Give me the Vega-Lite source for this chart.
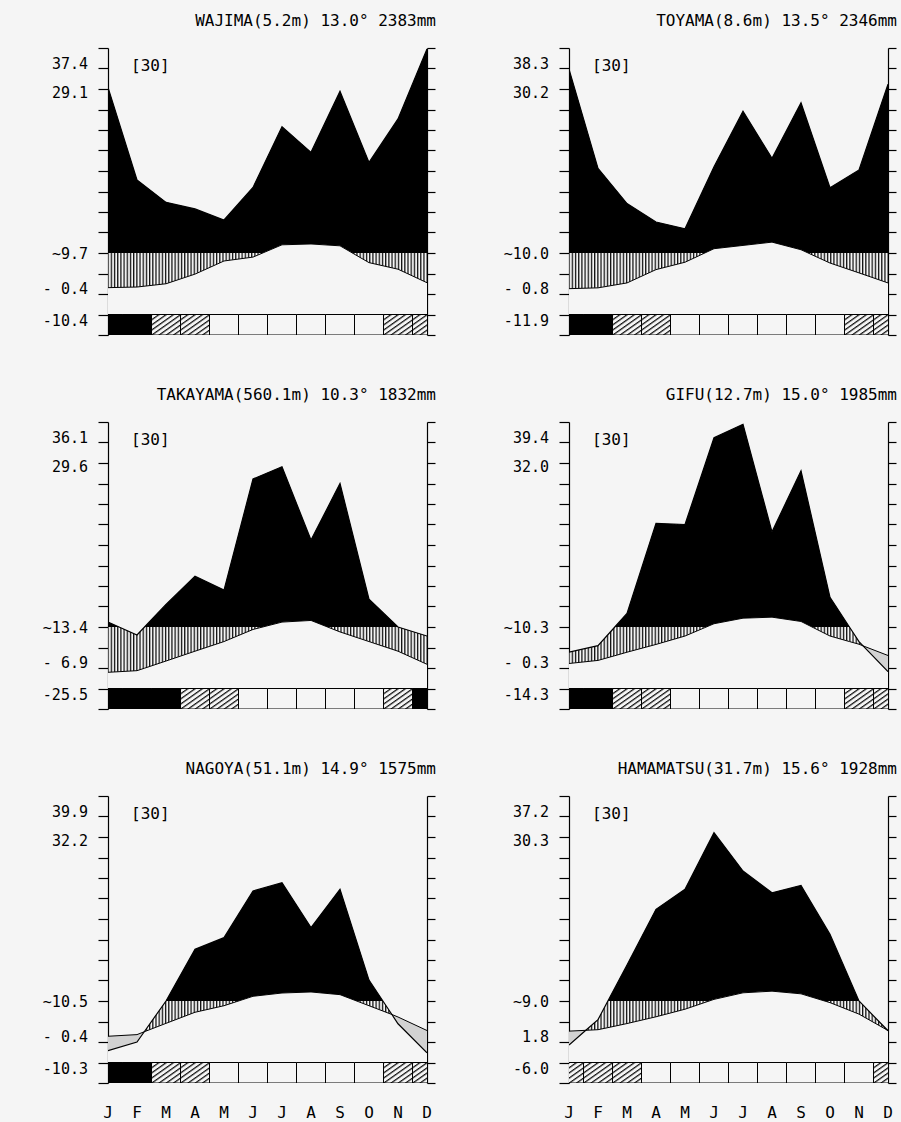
{
"$schema":"https://vega.github.io/schema/vega-lite/v6.json",
"background":"#f5f5f5",
"padding":{"left":42,"top":13,"right":5,"bottom":5},
"bounds":"flush",
"spacing":{"row":87,"column":142},
"columns":2,
"data":{"values":[
{"s":"WAJIMA","title":"WAJIMA(5.2m) 13.0° 2383mm","a":"37.4","b":"29.1","c":"~9.7","d":"- 0.4","e":"-10.4"},
{"s":"TOYAMA","title":"TOYAMA(8.6m)  13.5°  2346mm","a":"38.3","b":"30.2","c":"~10.0","d":"- 0.8","e":"-11.9"},
{"s":"TAKAYAMA","title":"TAKAYAMA(560.1m) 10.3° 1832mm","a":"36.1","b":"29.6","c":"~13.4","d":"- 6.9","e":"-25.5"},
{"s":"GIFU","title":"GIFU(12.7m)  15.0°  1985mm","a":"39.4","b":"32.0","c":"~10.3","d":"- 0.3","e":"-14.3"},
{"s":"NAGOYA","title":"NAGOYA(51.1m) 14.9°  1575mm","a":"39.9","b":"32.2","c":"~10.5","d":"- 0.4","e":"-10.3"},
{"s":"HAMAMATSU","title":"HAMAMATSU(31.7m) 15.6°  1928mm","a":"37.2","b":"30.3","c":"~9.0","d":"1.8","e":"-6.0"},
{"s":"WAJIMA","m":0,"t":3.1,"p":100.8,"f":"b"},{"s":"WAJIMA","m":1,"t":3.4,"p":55.6,"f":"b"},{"s":"WAJIMA","m":2,"t":5.0,"p":44.7,"f":"h"},{"s":"WAJIMA","m":3,"t":9.7,"p":41.5,"f":"h"},{"s":"WAJIMA","m":4,"t":16.1,"p":36.1,"f":"w"},{"s":"WAJIMA","m":5,"t":18.0,"p":52.0,"f":"w"},{"s":"WAJIMA","m":6,"t":24.0,"p":81.6,"f":"w"},{"s":"WAJIMA","m":7,"t":24.4,"p":69.1,"f":"w"},{"s":"WAJIMA","m":8,"t":23.5,"p":98.9,"f":"w"},{"s":"WAJIMA","m":9,"t":15.3,"p":64.2,"f":"w"},{"s":"WAJIMA","m":10,"t":12.1,"p":85.4,"f":"h"},{"s":"WAJIMA","m":11,"t":5.5,"p":119.5,"f":"h"},
{"s":"TOYAMA","m":0,"t":2.6,"p":109.7,"f":"b"},{"s":"TOYAMA","m":1,"t":3.0,"p":61.3,"f":"b"},{"s":"TOYAMA","m":2,"t":5.4,"p":44.1,"f":"h"},{"s":"TOYAMA","m":3,"t":11.9,"p":35.1,"f":"h"},{"s":"TOYAMA","m":4,"t":15.5,"p":31.8,"f":"w"},{"s":"TOYAMA","m":5,"t":22.1,"p":62.1,"f":"w"},{"s":"TOYAMA","m":6,"t":23.7,"p":89.2,"f":"w"},{"s":"TOYAMA","m":7,"t":25.3,"p":66.2,"f":"w"},{"s":"TOYAMA","m":8,"t":21.6,"p":93.3,"f":"w"},{"s":"TOYAMA","m":9,"t":15.1,"p":51.8,"f":"w"},{"s":"TOYAMA","m":10,"t":10.3,"p":60.5,"f":"h"},{"s":"TOYAMA","m":11,"t":5.4,"p":102.3,"f":"h"},
{"s":"TAKAYAMA","m":0,"t":-2.1,"p":22.4,"f":"b"},{"s":"TAKAYAMA","m":0.38,"t":-1.8,"p":20},{"s":"TAKAYAMA","m":1,"t":-1.3,"p":16.1,"f":"b"},{"s":"TAKAYAMA","m":1.26,"t":-0.1,"p":20},{"s":"TAKAYAMA","m":2,"t":3.4,"p":31.0,"f":"b"},{"s":"TAKAYAMA","m":3,"t":8.2,"p":44.8,"f":"h"},{"s":"TAKAYAMA","m":4,"t":12.9,"p":38.0,"f":"h"},{"s":"TAKAYAMA","m":5,"t":18.8,"p":92.2,"f":"w"},{"s":"TAKAYAMA","m":6,"t":22.4,"p":98.2,"f":"w"},{"s":"TAKAYAMA","m":7,"t":23.2,"p":62.4,"f":"w"},{"s":"TAKAYAMA","m":8,"t":17.6,"p":90.0,"f":"w"},{"s":"TAKAYAMA","m":9,"t":12.9,"p":33.6,"f":"w"},{"s":"TAKAYAMA","m":10,"t":8.2,"p":20.0,"f":"h"},{"s":"TAKAYAMA","m":11,"t":1.8,"p":15.6,"f":"b"},
{"s":"GIFU","m":0,"t":2.2,"p":7.7,"f":"b"},{"s":"GIFU","m":1,"t":3.7,"p":10.9,"f":"b"},{"s":"GIFU","m":1.58,"t":6.0,"p":20},{"s":"GIFU","m":2,"t":7.7,"p":26.6,"f":"h"},{"s":"GIFU","m":3,"t":11.5,"p":70.5,"f":"h"},{"s":"GIFU","m":4,"t":15.6,"p":70.0,"f":"w"},{"s":"GIFU","m":5,"t":21.6,"p":112.3,"f":"w"},{"s":"GIFU","m":6,"t":24.3,"p":118.9,"f":"w"},{"s":"GIFU","m":7,"t":24.8,"p":66.4,"f":"w"},{"s":"GIFU","m":8,"t":22.7,"p":96.2,"f":"w"},{"s":"GIFU","m":9,"t":15.6,"p":34.5,"f":"w"},{"s":"GIFU","m":9.67,"t":12.9,"p":20},{"s":"GIFU","m":10,"t":11.6,"p":12.9,"f":"h"},{"s":"GIFU","m":10.14,"t":10.8,"p":10.8},{"s":"GIFU","m":11,"t":6.1,"p":-1.8,"f":"h"},
{"s":"NAGOYA","m":0,"t":2.8,"p":-4.2,"f":"b","ml":"J"},{"s":"NAGOYA","m":1,"t":3.6,"p":0.0,"f":"b","ml":"F"},{"s":"NAGOYA","m":1.25,"t":5.0,"p":5.0},{"s":"NAGOYA","m":2,"t":9.1,"p":20.0,"f":"h","ml":"M"},{"s":"NAGOYA","m":3,"t":14.5,"p":45.2,"f":"h","ml":"A"},{"s":"NAGOYA","m":4,"t":17.7,"p":50.9,"f":"w","ml":"M"},{"s":"NAGOYA","m":5,"t":22.3,"p":73.7,"f":"w","ml":"J"},{"s":"NAGOYA","m":6,"t":23.9,"p":77.7,"f":"w","ml":"J"},{"s":"NAGOYA","m":7,"t":24.4,"p":55.8,"f":"w","ml":"A"},{"s":"NAGOYA","m":8,"t":23.1,"p":74.5,"f":"w","ml":"S"},{"s":"NAGOYA","m":9,"t":17.7,"p":30.2,"f":"w","ml":"O"},{"s":"NAGOYA","m":9.48,"t":15.1,"p":20},{"s":"NAGOYA","m":9.79,"t":13.4,"p":13.4},{"s":"NAGOYA","m":10,"t":12.2,"p":8.9,"f":"h","ml":"N"},{"s":"NAGOYA","m":11,"t":5.6,"p":-5.3,"f":"h","ml":"D"},
{"s":"HAMAMATSU","m":0,"t":5.3,"p":-1.5,"f":"h","ml":"J"},{"s":"HAMAMATSU","m":0.58,"t":5.7,"p":5.7},{"s":"HAMAMATSU","m":1,"t":6.0,"p":10.9,"f":"h","ml":"F"},{"s":"HAMAMATSU","m":1.34,"t":7.0,"p":20},{"s":"HAMAMATSU","m":2,"t":9.0,"p":37.6,"f":"h","ml":"M"},{"s":"HAMAMATSU","m":3,"t":12.3,"p":64.7,"f":"w","ml":"A"},{"s":"HAMAMATSU","m":4,"t":16.0,"p":74.5,"f":"w","ml":"M"},{"s":"HAMAMATSU","m":5,"t":20.8,"p":102.1,"f":"w","ml":"J"},{"s":"HAMAMATSU","m":6,"t":24.0,"p":83.4,"f":"w","ml":"J"},{"s":"HAMAMATSU","m":7,"t":24.8,"p":72.8,"f":"w","ml":"A"},{"s":"HAMAMATSU","m":8,"t":23.5,"p":76.4,"f":"w","ml":"S"},{"s":"HAMAMATSU","m":9,"t":19.2,"p":52.5,"f":"w","ml":"O"},{"s":"HAMAMATSU","m":10,"t":13.6,"p":20.0,"f":"w","ml":"N"},{"s":"HAMAMATSU","m":11,"t":5.6,"p":5.5,"f":"h","ml":"D"}
]},
"facet":{"field":"s","type":"nominal","sort":["WAJIMA","TOYAMA","TAKAYAMA","GIFU","NAGOYA","HAMAMATSU"],"title":null,"header":{"labels":false,"title":null,"labelExpr":"''","labelFontSize":0,"labelPadding":0,"labelColor":"transparent"}},
"resolve":{"axis":{"y":"independent"}},
"spec":{
"width":319,"height":287,
"resolve":{"axis":{"y":"independent"}},
"layer":[
{"transform":[{"filter":"isValid(datum.t)"}],
 "mark":{"type":"area","clip":true,"fill":{"gradient":"linear","x1":0,"y1":0,"x2":1,"y2":0,"stops":[
{"offset":0,"color":"#111"},{"offset":0.005,"color":"#f5f5f5"},{"offset":0.007,"color":"#f5f5f5"},
{"offset":0.01,"color":"#111"},{"offset":0.015,"color":"#f5f5f5"},{"offset":0.017,"color":"#f5f5f5"},
{"offset":0.02,"color":"#111"},{"offset":0.025,"color":"#f5f5f5"},{"offset":0.027,"color":"#f5f5f5"},
{"offset":0.03,"color":"#111"},{"offset":0.035,"color":"#f5f5f5"},{"offset":0.037,"color":"#f5f5f5"},
{"offset":0.04,"color":"#111"},{"offset":0.045,"color":"#f5f5f5"},{"offset":0.047,"color":"#f5f5f5"},
{"offset":0.05,"color":"#111"},{"offset":0.055,"color":"#f5f5f5"},{"offset":0.057,"color":"#f5f5f5"},
{"offset":0.06,"color":"#111"},{"offset":0.065,"color":"#f5f5f5"},{"offset":0.067,"color":"#f5f5f5"},
{"offset":0.07,"color":"#111"},{"offset":0.075,"color":"#f5f5f5"},{"offset":0.077,"color":"#f5f5f5"},
{"offset":0.08,"color":"#111"},{"offset":0.085,"color":"#f5f5f5"},{"offset":0.087,"color":"#f5f5f5"},
{"offset":0.09,"color":"#111"},{"offset":0.095,"color":"#f5f5f5"},{"offset":0.097,"color":"#f5f5f5"},
{"offset":0.10,"color":"#111"},{"offset":0.105,"color":"#f5f5f5"},{"offset":0.107,"color":"#f5f5f5"},
{"offset":0.11,"color":"#111"},{"offset":0.115,"color":"#f5f5f5"},{"offset":0.117,"color":"#f5f5f5"},
{"offset":0.12,"color":"#111"},{"offset":0.125,"color":"#f5f5f5"},{"offset":0.127,"color":"#f5f5f5"},
{"offset":0.13,"color":"#111"},{"offset":0.135,"color":"#f5f5f5"},{"offset":0.137,"color":"#f5f5f5"},
{"offset":0.14,"color":"#111"},{"offset":0.145,"color":"#f5f5f5"},{"offset":0.147,"color":"#f5f5f5"},
{"offset":0.15,"color":"#111"},{"offset":0.155,"color":"#f5f5f5"},{"offset":0.157,"color":"#f5f5f5"},
{"offset":0.16,"color":"#111"},{"offset":0.165,"color":"#f5f5f5"},{"offset":0.167,"color":"#f5f5f5"},
{"offset":0.17,"color":"#111"},{"offset":0.175,"color":"#f5f5f5"},{"offset":0.177,"color":"#f5f5f5"},
{"offset":0.18,"color":"#111"},{"offset":0.185,"color":"#f5f5f5"},{"offset":0.187,"color":"#f5f5f5"},
{"offset":0.19,"color":"#111"},{"offset":0.195,"color":"#f5f5f5"},{"offset":0.197,"color":"#f5f5f5"},
{"offset":0.20,"color":"#111"},{"offset":0.205,"color":"#f5f5f5"},{"offset":0.207,"color":"#f5f5f5"},
{"offset":0.21,"color":"#111"},{"offset":0.215,"color":"#f5f5f5"},{"offset":0.217,"color":"#f5f5f5"},
{"offset":0.22,"color":"#111"},{"offset":0.225,"color":"#f5f5f5"},{"offset":0.227,"color":"#f5f5f5"},
{"offset":0.23,"color":"#111"},{"offset":0.235,"color":"#f5f5f5"},{"offset":0.237,"color":"#f5f5f5"},
{"offset":0.24,"color":"#111"},{"offset":0.245,"color":"#f5f5f5"},{"offset":0.247,"color":"#f5f5f5"},
{"offset":0.25,"color":"#111"},{"offset":0.255,"color":"#f5f5f5"},{"offset":0.257,"color":"#f5f5f5"},
{"offset":0.26,"color":"#111"},{"offset":0.265,"color":"#f5f5f5"},{"offset":0.267,"color":"#f5f5f5"},
{"offset":0.27,"color":"#111"},{"offset":0.275,"color":"#f5f5f5"},{"offset":0.277,"color":"#f5f5f5"},
{"offset":0.28,"color":"#111"},{"offset":0.285,"color":"#f5f5f5"},{"offset":0.287,"color":"#f5f5f5"},
{"offset":0.29,"color":"#111"},{"offset":0.295,"color":"#f5f5f5"},{"offset":0.297,"color":"#f5f5f5"},
{"offset":0.30,"color":"#111"},{"offset":0.305,"color":"#f5f5f5"},{"offset":0.307,"color":"#f5f5f5"},
{"offset":0.31,"color":"#111"},{"offset":0.315,"color":"#f5f5f5"},{"offset":0.317,"color":"#f5f5f5"},
{"offset":0.32,"color":"#111"},{"offset":0.325,"color":"#f5f5f5"},{"offset":0.327,"color":"#f5f5f5"},
{"offset":0.33,"color":"#111"},{"offset":0.335,"color":"#f5f5f5"},{"offset":0.337,"color":"#f5f5f5"},
{"offset":0.34,"color":"#111"},{"offset":0.345,"color":"#f5f5f5"},{"offset":0.347,"color":"#f5f5f5"},
{"offset":0.35,"color":"#111"},{"offset":0.355,"color":"#f5f5f5"},{"offset":0.357,"color":"#f5f5f5"},
{"offset":0.36,"color":"#111"},{"offset":0.365,"color":"#f5f5f5"},{"offset":0.367,"color":"#f5f5f5"},
{"offset":0.37,"color":"#111"},{"offset":0.375,"color":"#f5f5f5"},{"offset":0.377,"color":"#f5f5f5"},
{"offset":0.38,"color":"#111"},{"offset":0.385,"color":"#f5f5f5"},{"offset":0.387,"color":"#f5f5f5"},
{"offset":0.39,"color":"#111"},{"offset":0.395,"color":"#f5f5f5"},{"offset":0.397,"color":"#f5f5f5"},
{"offset":0.40,"color":"#111"},{"offset":0.405,"color":"#f5f5f5"},{"offset":0.407,"color":"#f5f5f5"},
{"offset":0.41,"color":"#111"},{"offset":0.415,"color":"#f5f5f5"},{"offset":0.417,"color":"#f5f5f5"},
{"offset":0.42,"color":"#111"},{"offset":0.425,"color":"#f5f5f5"},{"offset":0.427,"color":"#f5f5f5"},
{"offset":0.43,"color":"#111"},{"offset":0.435,"color":"#f5f5f5"},{"offset":0.437,"color":"#f5f5f5"},
{"offset":0.44,"color":"#111"},{"offset":0.445,"color":"#f5f5f5"},{"offset":0.447,"color":"#f5f5f5"},
{"offset":0.45,"color":"#111"},{"offset":0.455,"color":"#f5f5f5"},{"offset":0.457,"color":"#f5f5f5"},
{"offset":0.46,"color":"#111"},{"offset":0.465,"color":"#f5f5f5"},{"offset":0.467,"color":"#f5f5f5"},
{"offset":0.47,"color":"#111"},{"offset":0.475,"color":"#f5f5f5"},{"offset":0.477,"color":"#f5f5f5"},
{"offset":0.48,"color":"#111"},{"offset":0.485,"color":"#f5f5f5"},{"offset":0.487,"color":"#f5f5f5"},
{"offset":0.49,"color":"#111"},{"offset":0.495,"color":"#f5f5f5"},{"offset":0.497,"color":"#f5f5f5"},
{"offset":0.50,"color":"#111"},{"offset":0.505,"color":"#f5f5f5"},{"offset":0.507,"color":"#f5f5f5"},
{"offset":0.51,"color":"#111"},{"offset":0.515,"color":"#f5f5f5"},{"offset":0.517,"color":"#f5f5f5"},
{"offset":0.52,"color":"#111"},{"offset":0.525,"color":"#f5f5f5"},{"offset":0.527,"color":"#f5f5f5"},
{"offset":0.53,"color":"#111"},{"offset":0.535,"color":"#f5f5f5"},{"offset":0.537,"color":"#f5f5f5"},
{"offset":0.54,"color":"#111"},{"offset":0.545,"color":"#f5f5f5"},{"offset":0.547,"color":"#f5f5f5"},
{"offset":0.55,"color":"#111"},{"offset":0.555,"color":"#f5f5f5"},{"offset":0.557,"color":"#f5f5f5"},
{"offset":0.56,"color":"#111"},{"offset":0.565,"color":"#f5f5f5"},{"offset":0.567,"color":"#f5f5f5"},
{"offset":0.57,"color":"#111"},{"offset":0.575,"color":"#f5f5f5"},{"offset":0.577,"color":"#f5f5f5"},
{"offset":0.58,"color":"#111"},{"offset":0.585,"color":"#f5f5f5"},{"offset":0.587,"color":"#f5f5f5"},
{"offset":0.59,"color":"#111"},{"offset":0.595,"color":"#f5f5f5"},{"offset":0.597,"color":"#f5f5f5"},
{"offset":0.60,"color":"#111"},{"offset":0.605,"color":"#f5f5f5"},{"offset":0.607,"color":"#f5f5f5"},
{"offset":0.61,"color":"#111"},{"offset":0.615,"color":"#f5f5f5"},{"offset":0.617,"color":"#f5f5f5"},
{"offset":0.62,"color":"#111"},{"offset":0.625,"color":"#f5f5f5"},{"offset":0.627,"color":"#f5f5f5"},
{"offset":0.63,"color":"#111"},{"offset":0.635,"color":"#f5f5f5"},{"offset":0.637,"color":"#f5f5f5"},
{"offset":0.64,"color":"#111"},{"offset":0.645,"color":"#f5f5f5"},{"offset":0.647,"color":"#f5f5f5"},
{"offset":0.65,"color":"#111"},{"offset":0.655,"color":"#f5f5f5"},{"offset":0.657,"color":"#f5f5f5"},
{"offset":0.66,"color":"#111"},{"offset":0.665,"color":"#f5f5f5"},{"offset":0.667,"color":"#f5f5f5"},
{"offset":0.67,"color":"#111"},{"offset":0.675,"color":"#f5f5f5"},{"offset":0.677,"color":"#f5f5f5"},
{"offset":0.68,"color":"#111"},{"offset":0.685,"color":"#f5f5f5"},{"offset":0.687,"color":"#f5f5f5"},
{"offset":0.69,"color":"#111"},{"offset":0.695,"color":"#f5f5f5"},{"offset":0.697,"color":"#f5f5f5"},
{"offset":0.70,"color":"#111"},{"offset":0.705,"color":"#f5f5f5"},{"offset":0.707,"color":"#f5f5f5"},
{"offset":0.71,"color":"#111"},{"offset":0.715,"color":"#f5f5f5"},{"offset":0.717,"color":"#f5f5f5"},
{"offset":0.72,"color":"#111"},{"offset":0.725,"color":"#f5f5f5"},{"offset":0.727,"color":"#f5f5f5"},
{"offset":0.73,"color":"#111"},{"offset":0.735,"color":"#f5f5f5"},{"offset":0.737,"color":"#f5f5f5"},
{"offset":0.74,"color":"#111"},{"offset":0.745,"color":"#f5f5f5"},{"offset":0.747,"color":"#f5f5f5"},
{"offset":0.75,"color":"#111"},{"offset":0.755,"color":"#f5f5f5"},{"offset":0.757,"color":"#f5f5f5"},
{"offset":0.76,"color":"#111"},{"offset":0.765,"color":"#f5f5f5"},{"offset":0.767,"color":"#f5f5f5"},
{"offset":0.77,"color":"#111"},{"offset":0.775,"color":"#f5f5f5"},{"offset":0.777,"color":"#f5f5f5"},
{"offset":0.78,"color":"#111"},{"offset":0.785,"color":"#f5f5f5"},{"offset":0.787,"color":"#f5f5f5"},
{"offset":0.79,"color":"#111"},{"offset":0.795,"color":"#f5f5f5"},{"offset":0.797,"color":"#f5f5f5"},
{"offset":0.80,"color":"#111"},{"offset":0.805,"color":"#f5f5f5"},{"offset":0.807,"color":"#f5f5f5"},
{"offset":0.81,"color":"#111"},{"offset":0.815,"color":"#f5f5f5"},{"offset":0.817,"color":"#f5f5f5"},
{"offset":0.82,"color":"#111"},{"offset":0.825,"color":"#f5f5f5"},{"offset":0.827,"color":"#f5f5f5"},
{"offset":0.83,"color":"#111"},{"offset":0.835,"color":"#f5f5f5"},{"offset":0.837,"color":"#f5f5f5"},
{"offset":0.84,"color":"#111"},{"offset":0.845,"color":"#f5f5f5"},{"offset":0.847,"color":"#f5f5f5"},
{"offset":0.85,"color":"#111"},{"offset":0.855,"color":"#f5f5f5"},{"offset":0.857,"color":"#f5f5f5"},
{"offset":0.86,"color":"#111"},{"offset":0.865,"color":"#f5f5f5"},{"offset":0.867,"color":"#f5f5f5"},
{"offset":0.87,"color":"#111"},{"offset":0.875,"color":"#f5f5f5"},{"offset":0.877,"color":"#f5f5f5"},
{"offset":0.88,"color":"#111"},{"offset":0.885,"color":"#f5f5f5"},{"offset":0.887,"color":"#f5f5f5"},
{"offset":0.89,"color":"#111"},{"offset":0.895,"color":"#f5f5f5"},{"offset":0.897,"color":"#f5f5f5"},
{"offset":0.90,"color":"#111"},{"offset":0.905,"color":"#f5f5f5"},{"offset":0.907,"color":"#f5f5f5"},
{"offset":0.91,"color":"#111"},{"offset":0.915,"color":"#f5f5f5"},{"offset":0.917,"color":"#f5f5f5"},
{"offset":0.92,"color":"#111"},{"offset":0.925,"color":"#f5f5f5"},{"offset":0.927,"color":"#f5f5f5"},
{"offset":0.93,"color":"#111"},{"offset":0.935,"color":"#f5f5f5"},{"offset":0.937,"color":"#f5f5f5"},
{"offset":0.94,"color":"#111"},{"offset":0.945,"color":"#f5f5f5"},{"offset":0.947,"color":"#f5f5f5"},
{"offset":0.95,"color":"#111"},{"offset":0.955,"color":"#f5f5f5"},{"offset":0.957,"color":"#f5f5f5"},
{"offset":0.96,"color":"#111"},{"offset":0.965,"color":"#f5f5f5"},{"offset":0.967,"color":"#f5f5f5"},
{"offset":0.97,"color":"#111"},{"offset":0.975,"color":"#f5f5f5"},{"offset":0.977,"color":"#f5f5f5"},
{"offset":0.98,"color":"#111"},{"offset":0.985,"color":"#f5f5f5"},{"offset":0.987,"color":"#f5f5f5"},
{"offset":0.99,"color":"#111"},{"offset":0.995,"color":"#f5f5f5"},{"offset":0.997,"color":"#f5f5f5"},
{"offset":1,"color":"#111"}]}},
 "encoding":{
  "x":{"field":"m","type":"quantitative","scale":{"domain":[0,11],"nice":false,"zero":false,"padding":0},"axis":null},
  "y":{"field":"p","type":"quantitative","scale":{"domain":[-20,120],"nice":false,"zero":false,"padding":0},"axis":null},
  "y2":{"datum":-10}}},
{"transform":[{"filter":"isValid(datum.t) && datum.p >= 20"}],
 "mark":{"type":"area","fill":"#000","clip":true},
 "encoding":{
  "x":{"field":"m","type":"quantitative","axis":null},
  "y":{"field":"p","type":"quantitative","axis":null},
  "y2":{"datum":20}}},
{"transform":[{"filter":"isValid(datum.t)"}],
 "mark":{"type":"area","fill":"#d2d2d2","clip":true},
 "encoding":{
  "x":{"field":"m","type":"quantitative","axis":null},
  "y":{"field":"t","type":"quantitative","axis":null},
  "y2":{"datum":-10}}},
{"transform":[{"filter":"isValid(datum.t)"},{"fold":["t","p"],"as":["key","val"]},{"aggregate":[{"op":"min","field":"val","as":"lo"}],"groupby":["s","m"]}],
 "mark":{"type":"area","fill":"#f5f5f5","clip":true},
 "encoding":{
  "x":{"field":"m","type":"quantitative","axis":null},
  "y":{"field":"lo","type":"quantitative","axis":null},
  "y2":{"datum":-10}}},
{"transform":[{"filter":"isValid(datum.t)"}],
 "mark":{"type":"line","stroke":"#000","strokeWidth":1,"clip":true},
 "encoding":{
  "x":{"field":"m","type":"quantitative","axis":null},
  "y":{"field":"t","type":"quantitative","axis":{"orient":"left","values":[-20,-10,0,10,20,30,40,50,60,70,80,90,100,110,120],"labels":false,"tickSize":10,"tickColor":"#000","tickWidth":1.2,"domainColor":"#000","domainWidth":1.2,"title":null,"grid":false}}}},
{"transform":[{"filter":"isValid(datum.t)"}],
 "mark":{"type":"line","stroke":"#000","strokeWidth":1.2,"clip":true},
 "encoding":{
  "x":{"field":"m","type":"quantitative","axis":null},
  "y":{"field":"p","type":"quantitative","axis":{"orient":"right","values":[-20,-10,0,10,20,30,40,50,60,70,80,90,100,110,120],"labels":false,"tickSize":8,"tickColor":"#000","tickWidth":1.2,"domainColor":"#000","domainWidth":1.2,"title":null,"grid":false}}}},
{"transform":[{"filter":"datum.f == 'b'"}],
 "mark":{"type":"bar","width":29,"fill":"#000","stroke":"#000","strokeWidth":1,"clip":true},
 "encoding":{
  "x":{"field":"m","type":"quantitative","axis":null},
  "y":{"datum":-20,"axis":null},
  "y2":{"datum":-10}}},
{"transform":[{"filter":"datum.f == 'w'"}],
 "mark":{"type":"bar","width":29,"fill":"#f5f5f5","stroke":"#000","strokeWidth":1,"clip":true},
 "encoding":{
  "x":{"field":"m","type":"quantitative","axis":null},
  "y":{"datum":-20,"axis":null},
  "y2":{"datum":-10}}},
{"transform":[{"filter":"datum.f == 'h'"}],
 "mark":{"type":"bar","width":29,"stroke":"#000","strokeWidth":1,"clip":true,"fill":{"gradient":"linear","x1":0,"y1":0,"x2":1,"y2":1,"stops":[
{"offset":0,"color":"#111"},{"offset":0.05,"color":"#f5f5f5"},{"offset":0.1,"color":"#f5f5f5"},
{"offset":0.125,"color":"#111"},{"offset":0.175,"color":"#f5f5f5"},{"offset":0.225,"color":"#f5f5f5"},
{"offset":0.25,"color":"#111"},{"offset":0.3,"color":"#f5f5f5"},{"offset":0.35,"color":"#f5f5f5"},
{"offset":0.375,"color":"#111"},{"offset":0.425,"color":"#f5f5f5"},{"offset":0.475,"color":"#f5f5f5"},
{"offset":0.5,"color":"#111"},{"offset":0.55,"color":"#f5f5f5"},{"offset":0.6,"color":"#f5f5f5"},
{"offset":0.625,"color":"#111"},{"offset":0.675,"color":"#f5f5f5"},{"offset":0.725,"color":"#f5f5f5"},
{"offset":0.75,"color":"#111"},{"offset":0.8,"color":"#f5f5f5"},{"offset":0.85,"color":"#f5f5f5"},
{"offset":0.875,"color":"#111"},{"offset":0.925,"color":"#f5f5f5"},{"offset":0.975,"color":"#f5f5f5"},
{"offset":1,"color":"#111"}]}},
 "encoding":{
  "x":{"field":"m","type":"quantitative","axis":null},
  "y":{"datum":-20,"axis":null},
  "y2":{"datum":-10}}},
{"transform":[{"filter":"isValid(datum.ml)"}],
 "mark":{"type":"text","align":"center","baseline":"middle","dy":30,"fontSize":16,"font":"DejaVu Sans Mono","fill":"#000"},
 "encoding":{"x":{"field":"m","type":"quantitative","axis":null},"y":{"datum":-20,"axis":null},"text":{"field":"ml"}}},
{"transform":[{"filter":"isValid(datum.title)"}],
 "mark":{"type":"text","align":"right","baseline":"middle","dx":9,"dy":-27,"fontSize":16,"font":"DejaVu Sans Mono","fill":"#000"},
 "encoding":{"x":{"datum":11,"axis":null},"y":{"datum":120,"axis":null},"text":{"field":"title"}}},
{"transform":[{"filter":"isValid(datum.title)"}],
 "mark":{"type":"text","align":"left","baseline":"middle","dx":23,"dy":18,"fontSize":16,"font":"DejaVu Sans Mono","fill":"#000","text":"[30]"},
 "encoding":{"x":{"datum":0,"axis":null},"y":{"datum":120,"axis":null}}},
{"transform":[{"filter":"isValid(datum.title)"}],
 "mark":{"type":"text","align":"right","baseline":"middle","dx":-20,"fontSize":15,"font":"DejaVu Sans Mono","fill":"#000"},
 "encoding":{"x":{"datum":0,"axis":null},"y":{"datum":112,"axis":null},"text":{"field":"a"}}},
{"transform":[{"filter":"isValid(datum.title)"}],
 "mark":{"type":"text","align":"right","baseline":"middle","dx":-20,"fontSize":15,"font":"DejaVu Sans Mono","fill":"#000"},
 "encoding":{"x":{"datum":0,"axis":null},"y":{"datum":98,"axis":null},"text":{"field":"b"}}},
{"transform":[{"filter":"isValid(datum.title)"}],
 "mark":{"type":"text","align":"right","baseline":"middle","dx":-20,"fontSize":15,"font":"DejaVu Sans Mono","fill":"#000"},
 "encoding":{"x":{"datum":0,"axis":null},"y":{"datum":19.5,"axis":null},"text":{"field":"c"}}},
{"transform":[{"filter":"isValid(datum.title)"}],
 "mark":{"type":"text","align":"right","baseline":"middle","dx":-20,"fontSize":15,"font":"DejaVu Sans Mono","fill":"#000"},
 "encoding":{"x":{"datum":0,"axis":null},"y":{"datum":2.5,"axis":null},"text":{"field":"d"}}},
{"transform":[{"filter":"isValid(datum.title)"}],
 "mark":{"type":"text","align":"right","baseline":"middle","dx":-20,"fontSize":15,"font":"DejaVu Sans Mono","fill":"#000"},
 "encoding":{"x":{"datum":0,"axis":null},"y":{"datum":-13,"axis":null},"text":{"field":"e"}}}
]},
"config":{"view":{"stroke":null},"axis":{"grid":false},"font":"DejaVu Sans Mono","header":{"labels":false,"title":null},"headerFacet":{"labels":false,"title":null,"labelFontSize":0,"labelPadding":0}}
}
